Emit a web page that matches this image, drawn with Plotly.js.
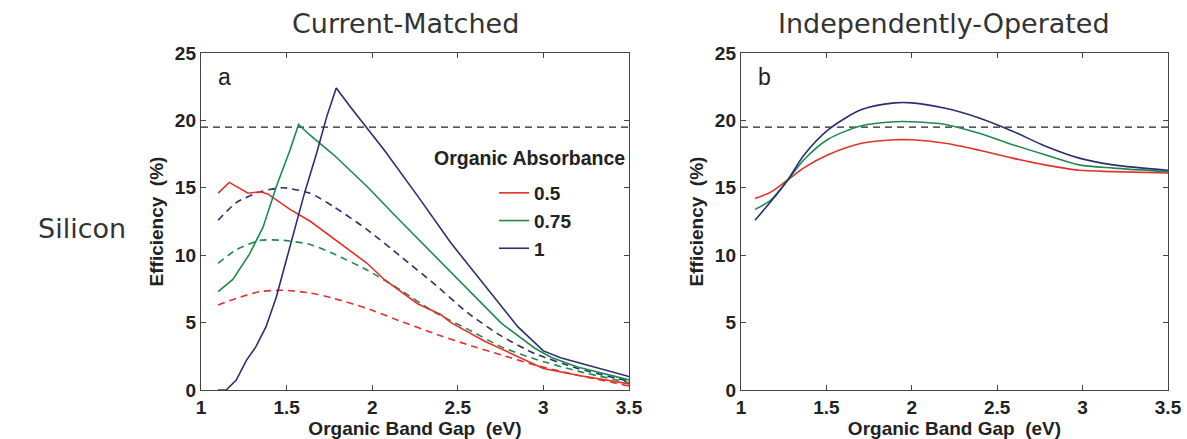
<!DOCTYPE html>
<html>
<head>
<meta charset="utf-8">
<script src="https://cdn.plot.ly/plotly-3.0.1.min.js"></script>
<style>html,body{margin:0;padding:0;background:#fff}#chart{width:1187px;height:439px}</style>
</head>
<body>
<div id="chart"></div>
<script>
// ---- Data ----
const absorbances = ["0.5", "0.75", "1"];
const siliconEff = 19.5;
const gapRange = [1, 3.5];

// Current-Matched, solid lines
const cmRedX = [1.10, 1.165, 1.275, 1.345, 1.39, 1.52, 1.64, 1.81, 1.97, 2.07, 2.265, 2.40, 2.46, 2.66, 2.85, 3.0, 3.2, 3.5];
const cmRedY = [14.6, 15.4, 14.6, 14.7, 14.55, 13.4, 12.5, 10.9, 9.4, 8.2, 6.4, 5.6, 5.0, 3.6, 2.5, 1.6, 1.1, 0.45];
const cmGreenX = [1.10, 1.186, 1.284, 1.363, 1.44, 1.52, 1.57, 1.637, 1.775, 1.97, 2.167, 2.36, 2.56, 2.755, 2.95, 3.05, 3.2, 3.5];
const cmGreenY = [7.3, 8.2, 10.1, 12.1, 15.1, 17.8, 19.7, 18.9, 17.45, 15.1, 12.5, 10.0, 7.4, 4.95, 3.1, 2.4, 1.7, 0.75];
const cmBlueX = [1.10, 1.147, 1.206, 1.265, 1.32, 1.38, 1.44, 1.52, 1.60, 1.676, 1.735, 1.79, 1.873, 2.07, 2.265, 2.46, 2.66, 2.85, 3.0, 3.1, 3.5];
const cmBlueY = [0, 0, 0.74, 2.2, 3.2, 4.7, 6.9, 10.6, 14.4, 17.6, 20.3, 22.4, 21.0, 17.8, 14.4, 10.9, 7.7, 4.7, 2.9, 2.4, 1.0];

// Current-Matched, dashed lines
const cmRedDashX = [1.10, 1.206, 1.343, 1.48, 1.637, 1.775, 1.97, 2.167, 2.36, 2.56, 2.755, 2.95, 3.2, 3.5];
const cmRedDashY = [6.3, 6.8, 7.3, 7.4, 7.2, 6.8, 6.05, 5.1, 4.2, 3.35, 2.6, 1.85, 1.1, 0.3];
const cmGreenDashX = [1.10, 1.206, 1.343, 1.48, 1.637, 1.775, 1.97, 2.167, 2.36, 2.56, 2.755, 2.95, 3.2, 3.5];
const cmGreenDashY = [9.4, 10.4, 11.1, 11.1, 10.8, 10.1, 8.9, 7.4, 5.8, 4.5, 3.2, 2.3, 1.4, 0.55];
const cmBlueDashX = [1.10, 1.206, 1.343, 1.48, 1.637, 1.775, 1.97, 2.167, 2.36, 2.56, 2.755, 2.95, 3.2, 3.5];
const cmBlueDashY = [12.6, 13.9, 14.7, 15.0, 14.6, 13.6, 11.9, 9.9, 7.9, 5.7, 4.0, 2.7, 1.6, 0.65];

// Independently-Operated
const ioX = [1.082, 1.176, 1.275, 1.37, 1.51, 1.706, 1.90, 2.0, 2.196, 2.39, 2.59, 2.78, 2.98, 3.18, 3.5];
const ioRedY = [14.2, 14.7, 15.6, 16.5, 17.45, 18.3, 18.56, 18.56, 18.3, 17.8, 17.2, 16.7, 16.3, 16.2, 16.1];
const ioGreenY = [13.4, 14.1, 15.6, 17.1, 18.6, 19.6, 19.9, 19.9, 19.7, 19.06, 18.2, 17.45, 16.7, 16.46, 16.2];
const ioBlueY = [12.6, 14.0, 15.6, 17.45, 19.3, 20.8, 21.3, 21.3, 20.9, 20.2, 19.2, 18.1, 17.2, 16.7, 16.3];

// ---- Styling ----
const RED = "#e3312b", GREEN = "#1f8a4c", BLUE = "#2c2e70";
const LW = 1.6;
const DASH = "7px,5px";

function line(x, y, color, opts) {
  return Object.assign({
    type: "scatter", mode: "lines", x: x, y: y,
    line: { color: color, width: LW },
    showlegend: false, hoverinfo: "skip"
  }, opts || {});
}

const traces = [
  line(gapRange, [siliconEff, siliconEff], "#222", { line: { color: "#222", width: 1.4, dash: DASH } }),
  line(cmRedDashX, cmRedDashY, RED, { line: { color: RED, width: LW, dash: DASH, shape: "spline", smoothing: 0.6 } }),
  line(cmGreenDashX, cmGreenDashY, GREEN, { line: { color: GREEN, width: LW, dash: DASH, shape: "spline", smoothing: 0.6 } }),
  line(cmBlueDashX, cmBlueDashY, BLUE, { line: { color: BLUE, width: LW, dash: DASH, shape: "spline", smoothing: 0.6 } }),
  line(cmRedX, cmRedY, RED, { name: absorbances[0], showlegend: true }),
  line(cmGreenX, cmGreenY, GREEN, { name: absorbances[1], showlegend: true }),
  line(cmBlueX, cmBlueY, BLUE, { name: absorbances[2], showlegend: true }),
  line(gapRange, [siliconEff, siliconEff], "#222", { xaxis: "x2", yaxis: "y2", line: { color: "#222", width: 1.4, dash: DASH } }),
  line(ioX, ioRedY, RED, { xaxis: "x2", yaxis: "y2", line: { color: RED, width: LW, shape: "spline", smoothing: 0.8 } }),
  line(ioX, ioGreenY, GREEN, { xaxis: "x2", yaxis: "y2", line: { color: GREEN, width: LW, shape: "spline", smoothing: 0.8 } }),
  line(ioX, ioBlueY, BLUE, { xaxis: "x2", yaxis: "y2", line: { color: BLUE, width: LW, shape: "spline", smoothing: 0.8 } })
];

const W = 1187, H = 439;
const SANS = "Liberation Sans, Arial, sans-serif";
const tickFont = { family: SANS, size: 19, color: "#222", weight: "bold" };
const titleFont = { family: SANS, size: 19, color: "#222", weight: "bold" };

function xax(domain) {
  return {
    domain: domain, range: gapRange, dtick: 0.5, tick0: 1,
    ticks: "inside", ticklen: 5, tickwidth: 1, tickcolor: "#444",
    showline: true, linecolor: "#444", linewidth: 1.2, mirror: "ticks",
    showgrid: false, zeroline: false, tickfont: tickFont, fixedrange: true,
    title: { text: "Organic Band Gap\u00A0\u00A0(eV)", font: titleFont, standoff: 0 }
  };
}
function yax(anchor) {
  return {
    domain: [1 - 390 / H, 1 - 53 / H], range: [0, 25], dtick: 5, anchor: anchor,
    ticks: "inside", ticklen: 5, tickwidth: 1, tickcolor: "#444",
    showline: true, linecolor: "#444", linewidth: 1.2, mirror: "ticks",
    showgrid: false, zeroline: false, tickfont: tickFont, fixedrange: true,
    title: { text: "Efficiency\u00A0\u00A0(%)", font: titleFont, standoff: 6 }
  };
}

function note(text, px, py, font) {
  return { text: text, xref: "paper", yref: "paper", x: px / W, y: 1 - py / H,
    xanchor: "center", yanchor: "middle", showarrow: false, font: font };
}
const bigFont = { family: "DejaVu Sans, Verdana, sans-serif", size: 27, color: "#333" };

const layout = {
  width: W, height: H,
  margin: { l: 0, r: 0, t: 0, b: 0 },
  paper_bgcolor: "#fff", plot_bgcolor: "#fff",
  showlegend: true,
  legend: {
    x: 494 / W, y: 1 - 174 / H, xanchor: "left", yanchor: "top",
    bgcolor: "rgba(0,0,0,0)", borderwidth: 0,
    font: { family: SANS, size: 19, color: "#222", weight: "bold" },
    itemwidth: 30, tracegroupgap: 0
  },
  xaxis: Object.assign(xax([201 / W, 629 / W]), { anchor: "y" }),
  yaxis: yax("x"),
  xaxis2: Object.assign(xax([741 / W, 1168 / W]), { anchor: "y2" }),
  yaxis2: yax("x2"),
  annotations: [
    note("Current-Matched", 405, 23, bigFont),
    note("Independently-Operated", 944, 23, bigFont),
    note("Silicon", 82, 228, bigFont),
    note("a", 224, 77, { family: SANS, size: 23, color: "#222" }),
    note("b", 764, 77, { family: SANS, size: 23, color: "#222" }),
    note("Organic Absorbance", 529, 158, { family: SANS, size: 19.5, color: "#222", weight: "bold" })
  ]
};

Plotly.newPlot("chart", traces, layout, { staticPlot: true, displayModeBar: false });
</script>
</body>
</html>
